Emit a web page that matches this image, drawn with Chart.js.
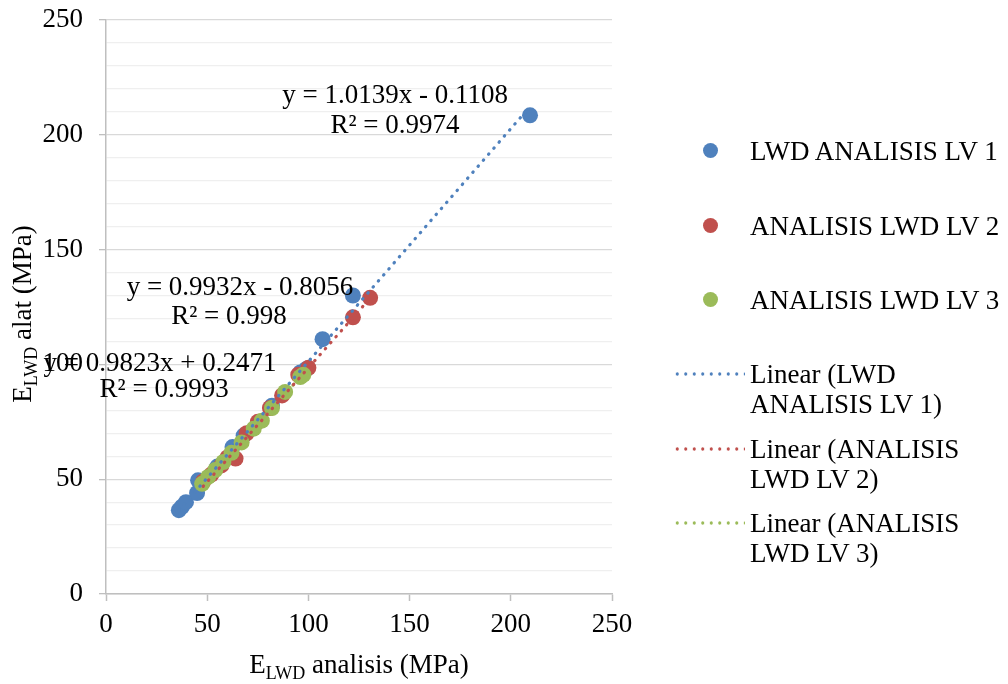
<!DOCTYPE html>
<html>
<head>
<meta charset="utf-8">
<script src="https://cdn.jsdelivr.net/npm/chart.js@4.4.0/dist/chart.umd.min.js"></script>
<style>
  html, body { margin: 0; padding: 0; background: #fff; }
  #wrap { position: relative; width: 1008px; height: 684px; font-family: 'Liberation Serif', 'Times New Roman', serif; color: #000; }
  #chart { position: absolute; left: 0; top: 0; }
  .leg { position: absolute; font-size: 27px; line-height: 30px; white-space: nowrap; }
  .dot { position: absolute; width: 15px; height: 15px; border-radius: 50%; }
  .dline { position: absolute; width: 72px; height: 4px; background-repeat: repeat-x; background-size: 8.5px 4px; }
</style>
</head>
<body>
<div id="wrap">
  <canvas id="chart" width="1008" height="684"></canvas>
  <div id="legend"></div>
</div>
<script>
// Series values
const lv1X = [36, 37.5, 39.5, 45, 45.5, 55, 62.5, 68, 82, 96, 99, 107, 122, 209.5];
const lv1Y = [36.5, 38, 40, 44, 49.5, 55.5, 64, 69, 82, 96.5, 98, 111, 130, 208.5];
const lv2X = [48, 52, 57, 60, 64, 69.5, 75, 81, 87, 95, 100, 122, 130.5];
const lv2Y = [49, 52, 56, 59.5, 59, 70, 75, 81, 86.5, 95.5, 98.5, 120.5, 129];
const lv3X = [47.5, 50.5, 54, 58, 62, 67, 73, 77, 82, 88.5, 96, 97.5];
const lv3Y = [48, 51, 54, 57.5, 61.5, 66, 72, 75.5, 81, 88, 94.5, 95.5];

const seriesNames = ['LWD ANALISIS LV 1', 'ANALISIS LWD LV 2', 'ANALISIS LWD LV 3'];
const trendNames = [['Linear (LWD', 'ANALISIS LV 1)'], ['Linear (ANALISIS', 'LWD LV 2)'], ['Linear (ANALISIS', 'LWD LV 3)']];
const slopes = [1.0139, 0.9932, 0.9823];
const intercepts = [-0.1108, -0.8056, 0.2471];
const eqTexts = [
  ['y = 1.0139x - 0.1108', 'R² = 0.9974'],
  ['y = 0.9932x - 0.8056', 'R² = 0.998'],
  ['y = 0.9823x + 0.2471', 'R² = 0.9993']
];

const colors = ['#4f81bd', '#c0504d', '#9bbb59'];
const FONT = "'Liberation Serif', 'Times New Roman', serif";

const xs = [lv1X, lv2X, lv3X];
const ys = [lv1Y, lv2Y, lv3Y];

const pointSets = xs.map((arr, i) => ({
  type: 'scatter',
  label: seriesNames[i],
  data: arr.map((x, j) => ({ x: x, y: ys[i][j] })),
  backgroundColor: colors[i],
  borderColor: colors[i],
  borderWidth: 0,
  pointRadius: 8,
  pointHoverRadius: 8,
  order: 3 - i
}));

const trendSets = xs.map((arr, i) => {
  const lo = Math.min(...arr), hi = Math.max(...arr);
  return {
    type: 'line',
    label: trendNames[i].join(' '),
    data: [lo, hi].map(x => ({ x: x, y: slopes[i] * x + intercepts[i] })),
    borderColor: colors[i],
    borderWidth: 3.2,
    borderDash: [0.5, 7.5],
    borderCapStyle: 'round',
    pointRadius: 0,
    fill: false,
    order: 0
  };
});

// equation label anchors in data units: [x line1, y line1, x line2, y line2]
const eqPos = [[142.8, 216.9, 142.8, 203.8], [66.2, 133.3, 60.8, 120.6], [26.7, 100.2, 28.7, 88.9]];

const textPlugin = {
  id: 'texts',
  afterDatasetsDraw(chart) {
    const { ctx, scales: { x, y } } = chart;
    ctx.save();
    ctx.fillStyle = '#000';
    ctx.font = '27px ' + FONT;
    ctx.textAlign = 'center';
    ctx.textBaseline = 'middle';
    eqTexts.forEach((t, i) => {
      const p = eqPos[i];
      ctx.fillText(t[0], x.getPixelForValue(p[0]), y.getPixelForValue(p[1]));
      ctx.fillText(t[1], x.getPixelForValue(p[2]), y.getPixelForValue(p[3]));
    });
    ctx.restore();
  },
  afterDraw(chart) {
    const { ctx, chartArea } = chart;
    const drawTitle = (cx, cy, rest) => {
      ctx.font = '27px ' + FONT;
      const w1 = ctx.measureText('E').width;
      const w3 = ctx.measureText(rest).width;
      ctx.font = '18px ' + FONT;
      const w2 = ctx.measureText('LWD').width;
      const sx = cx - (w1 + w2 + w3) / 2;
      ctx.textAlign = 'left';
      ctx.textBaseline = 'alphabetic';
      ctx.font = '27px ' + FONT;
      ctx.fillText('E', sx, cy);
      ctx.font = '18px ' + FONT;
      ctx.fillText('LWD', sx + w1, cy + 6);
      ctx.font = '27px ' + FONT;
      ctx.fillText(rest, sx + w1 + w2, cy);
    };
    ctx.save();
    ctx.fillStyle = '#000';
    drawTitle((chartArea.left + chartArea.right) / 2, 673, ' analisis (MPa)');
    ctx.translate(31, 314);
    ctx.rotate(-Math.PI / 2);
    drawTitle(0, 0, ' alat (MPa)');
    ctx.restore();
  }
};

new Chart(document.getElementById('chart'), {
  type: 'scatter',
  data: { datasets: [...pointSets, ...trendSets] },
  options: {
    responsive: false,
    animation: false,
    layout: { padding: { left: 0, right: 396, top: 20, bottom: 0 } },
    plugins: { legend: { display: false }, tooltip: { enabled: false } },
    scales: {
      x: {
        type: 'linear',
        min: 0, max: 250,
        afterFit: s => { s.height = 90; s.paddingLeft = 0; s.paddingRight = 0; },
        ticks: { stepSize: 50, color: '#000', font: { family: FONT, size: 27 }, padding: 8 },
        grid: { drawOnChartArea: false, drawTicks: true, tickLength: 7, tickColor: '#bfbfbf', tickWidth: 1.5 },
        border: { color: '#bfbfbf', width: 1.5 }
      },
      y: {
        type: 'linear',
        min: 0, max: 250,
        afterFit: s => { s.width = 106; s.paddingTop = 0; s.paddingBottom = 0; },
        ticks: {
          stepSize: 10, autoSkip: false, color: '#000', font: { family: FONT, size: 27 }, padding: 16,
          callback: v => (v % 50 === 0 ? v : '')
        },
        grid: {
          color: c => (c.tick && c.tick.value % 50 === 0 ? '#d9d9d9' : '#efefef'),
          lineWidth: 1.3,
          tickLength: 7,
          tickColor: c => (c.tick && c.tick.value % 50 === 0 ? '#bfbfbf' : 'rgba(0,0,0,0)')
        },
        border: { color: '#bfbfbf', width: 1.5 }
      }
    }
  },
  plugins: [textPlugin]
});

// legend
const legend = document.getElementById('legend');
const dotY = [150, 225, 299];
seriesNames.forEach((n, i) => {
  legend.insertAdjacentHTML('beforeend',
    `<div class="dot" style="left:703px;top:${dotY[i] - 7.5}px;background:${colors[i]}"></div>` +
    `<div class="leg" style="left:750px;top:${dotY[i] - 14}px">${n}</div>`);
});
const lineY = [374, 449, 523];
trendNames.forEach((n, i) => {
  legend.insertAdjacentHTML('beforeend',
    `<div class="dline" style="left:673px;top:${lineY[i] - 2}px;background-image:radial-gradient(circle, ${colors[i]} 1.4px, rgba(255,255,255,0) 1.9px)"></div>` +
    `<div class="leg" style="left:750px;top:${lineY[i] - 15}px">${n[0]}<br>${n[1]}</div>`);
});
</script>
</body>
</html>
